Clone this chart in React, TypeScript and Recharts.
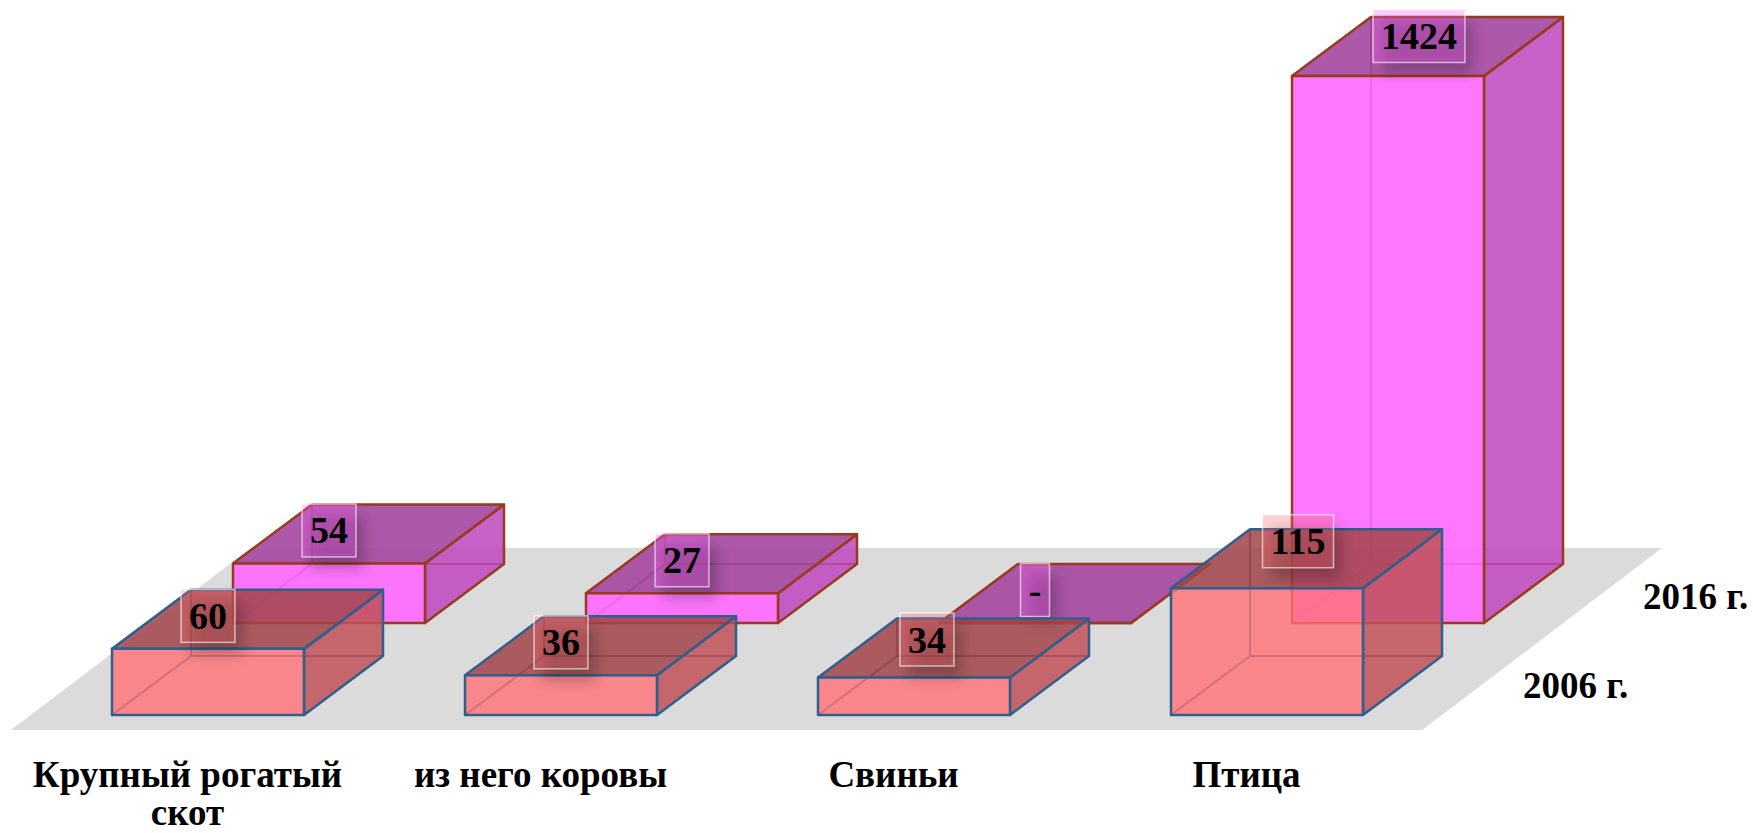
import { BarChart, Bar, XAxis, YAxis } from "recharts";

const categories = ["Крупный рогатый скот", "из него коровы", "Свиньи", "Птица"];
const values2006 = [60, 36, 34, 115];
const values2016 = [54, 27, 0, 1424];
const seriesNames = ["2016 г.", "2006 г."];

const data = categories.map((name, i) => ({ name, y2006: values2006[i], y2016: values2016[i] }));

const FONT = "'Liberation Serif', 'Times New Roman', serif";
const DEPTH_X = 79;
const DEPTH_Y = 59;
const ROW_X = 121;
const ROW_Y = 92;

const rose = { front: "rgba(255,112,119,0.8)", side: "rgba(192,81,88,0.85)", top: "rgba(162,68,73,0.85)", line: "#2f5f8c", tag: "rgba(255,108,115,0.3)" };
const violet = { front: "rgba(255,104,254,0.9)", side: "rgba(190,70,190,0.85)", top: "rgba(165,70,160,0.9)", line: "#963c1e", tag: "rgba(255,100,255,0.3)" };

// the original value axis is squeezed above the small values, so the tall bar still fits
function squeezedScale(dom: number[] = [0, 1424], rng: number[] = [0, 1]) {
  const kink = 115;
  const kinkShare = 0.2317;
  const s: any = (v: number) => {
    const lo = dom[0];
    const hi = dom[dom.length - 1];
    const t = v <= kink ? ((v - lo) / (kink - lo)) * kinkShare : kinkShare + ((v - kink) / (hi - kink)) * (1 - kinkShare);
    return rng[0] + t * (rng[rng.length - 1] - rng[0]);
  };
  s.domain = (d?: number[]) => (d ? ((dom = d), s) : dom);
  s.range = (r?: number[]) => (r ? ((rng = r), s) : rng);
  s.copy = () => squeezedScale([...dom], [...rng]);
  s.ticks = () => [0, 1424];
  return s;
}

// label tags were placed by hand in the source, a few sit off centre
const tagNudge: Record<string, [number, number]> = {
  "2006-2": [13, -5],
  "2006-3": [31, -14],
  "2016-3": [31, -7],
};

function Face({ points, fill, stroke }: { points: number[][]; fill: string; stroke: string }) {
  return <polygon points={points.map(p => p.join(",")).join(" ")} fill={fill} stroke={stroke} strokeWidth={2.5} strokeLinejoin="round" />;
}

function Box(props: any) {
  const { x, y, width, height, index, tone, year, shiftX, shiftY, value } = props;
  const l = x + shiftX;
  const r = l + width;
  const t = y - shiftY;
  const b = t + height;
  const label = value === 0 ? "-" : String(value);
  const tagW = label === "-" ? 29 : label.length === 2 ? 54 : label.length === 3 ? 71 : 92;
  const tagH = 53;
  const nudge = tagNudge[`${year}-${index}`] || [0, 0];
  const cx = l + width / 2 + nudge[0];
  const cy = t - 33 + nudge[1];
  return (
    <g>
      <line x1={l} y1={b} x2={l + DEPTH_X} y2={b - DEPTH_Y} stroke={tone.line} strokeWidth={2} />
      <line x1={l + DEPTH_X} y1={b - DEPTH_Y} x2={r + DEPTH_X} y2={b - DEPTH_Y} stroke={tone.line} strokeWidth={2} />
      <line x1={l + DEPTH_X} y1={b - DEPTH_Y} x2={l + DEPTH_X} y2={t - DEPTH_Y} stroke={tone.line} strokeWidth={2} />
      <Face points={[[r, t], [r + DEPTH_X, t - DEPTH_Y], [r + DEPTH_X, b - DEPTH_Y], [r, b]]} fill={tone.side} stroke={tone.line} />
      <Face points={[[l, t], [l + DEPTH_X, t - DEPTH_Y], [r + DEPTH_X, t - DEPTH_Y], [r, t]]} fill={tone.top} stroke={tone.line} />
      <Face points={[[l, t], [r, t], [r, b], [l, b]]} fill={tone.front} stroke={tone.line} />
      <rect x={cx - tagW / 2 + 8} y={cy - tagH / 2 + 12} width={tagW} height={tagH} fill="#000" opacity={0.22} filter="url(#tagShadow)" />
      <rect x={cx - tagW / 2} y={cy - tagH / 2} width={tagW} height={tagH} fill={tone.tag} stroke="rgba(255,255,255,0.6)" strokeWidth={1.5} />
      <text x={cx} y={cy + 13} textAnchor="middle" fontFamily={FONT} fontWeight="bold" fontSize={38} fill="#000">
        {label}
      </text>
    </g>
  );
}

function CategoryTick({ x, y, payload }: any) {
  // only the first category runs over two lines
  const words: string[] = payload.value.length > 16 ? [payload.value.replace(" скот", ""), "скот"] : [payload.value];
  return (
    <text x={x - 20} y={y} textAnchor="middle" fontFamily={FONT} fontWeight="bold" fontSize={37} fill="#000">
      {words.map((w, i) => (
        <tspan key={w} x={x - 20} y={y + 64 + i * 38}>
          {w}
        </tspan>
      ))}
    </text>
  );
}

export default function App() {
  return (
    <div style={{ position: "absolute", left: 0, top: 0 }}>
      <BarChart
        width={1753}
        height={833}
        data={data}
        barSize={192}
        barGap={-192}
        margin={{ top: 168, right: 310, bottom: 0, left: 31 }}
      >
        <defs>
          <filter id="tagShadow" x="-50%" y="-50%" width="200%" height="200%">
            <feGaussianBlur stdDeviation="7" />
          </filter>
        </defs>
        <polygon points="11,730 1422,730 1662,548 251,548" fill="#dbdbdb" />
        <XAxis dataKey="name" height={118} axisLine={false} tickLine={false} interval={0} tick={<CategoryTick />} />
        <YAxis hide domain={[0, 1424]} scale={squeezedScale()} type="number" />
        <Bar dataKey="y2016" isAnimationActive={false} shape={(p: any) => <Box {...p} tone={violet} year="2016" shiftX={ROW_X} shiftY={ROW_Y} />} />
        <Bar dataKey="y2006" isAnimationActive={false} shape={(p: any) => <Box {...p} tone={rose} year="2006" shiftX={0} shiftY={0} />} />
        <text x={1643} y={609} fontFamily={FONT} fontWeight="bold" fontSize={37} fill="#000">
          {seriesNames[0]}
        </text>
        <text x={1523} y={698} fontFamily={FONT} fontWeight="bold" fontSize={37} fill="#000">
          {seriesNames[1]}
        </text>
      </BarChart>
    </div>
  );
}
